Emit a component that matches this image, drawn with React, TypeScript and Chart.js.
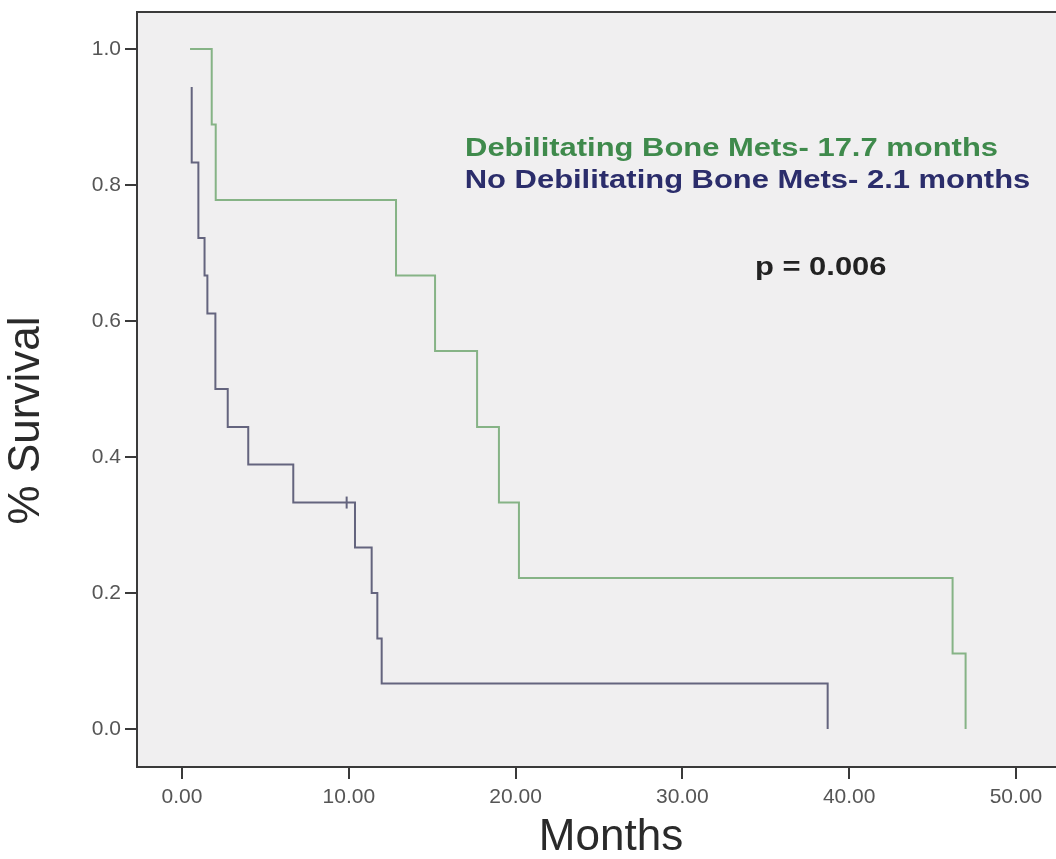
import React, { useEffect, useRef } from 'react';
import { Chart, registerables } from 'chart.js';

Chart.register(...registerables);

// ---- Data (Kaplan-Meier steps) ----
const GREEN_TIMES = [0.48, 1.78, 2.02, 12.83, 15.17, 17.69, 19.0, 20.2, 46.2, 46.98];
const GREEN_SURV = [1.0, 0.889, 0.778, 0.667, 0.556, 0.444, 0.333, 0.222, 0.111, 0.0];

const BLUE_TIMES = [0.58, 0.58, 0.98, 1.35, 1.52, 2.0, 2.74, 3.97, 6.67, 10.37, 11.37, 11.71, 11.97, 38.71];
const BLUE_SURV = [0.944, 0.833, 0.722, 0.667, 0.611, 0.5, 0.444, 0.389, 0.333, 0.267, 0.2, 0.133, 0.067, 0.0];

const BLUE_CENSOR_TIMES = [9.87];
const BLUE_CENSOR_SURV = [0.333];

const X_TICKS = [0, 10, 20, 30, 40, 50];
const X_TICK_LABELS = ['0.00', '10.00', '20.00', '30.00', '40.00', '50.00'];
const Y_TICKS = [0, 0.2, 0.4, 0.6, 0.8, 1.0];
const Y_TICK_LABELS = ['0.0', '0.2', '0.4', '0.6', '0.8', '1.0'];

const X_TITLE = 'Months';
const Y_TITLE = '% Survival';

const LEGEND_TEXTS = [
  'Debilitating Bone Mets- 17.7 months',
  'No Debilitating Bone Mets- 2.1 months',
];
const P_TEXT = 'p = 0.006';

// ---- Styles / positions ----
const FONT = '"Liberation Sans", Arial, Helvetica, sans-serif';
const GREEN_LINE = '#86b386';
const BLUE_LINE = '#64647e';
const GREEN_TEXT = '#3f8a4c';
const BLUE_TEXT = '#2b2d6b';
const AXIS_COLOR = '#3a3a3a';
const PLOT_BG = '#f0eff0';
const TEXT_STRETCH = 1.19;
// annotation anchors (left/baseline) in data units: [months, survival]
const ANNOT_POS = [
  [16.97, 0.843],
  [16.95, 0.795],
  [34.35, 0.668],
];

function toXY(ts: number[], ss: number[]) {
  return ts.map((t, i) => ({ x: t, y: ss[i] }));
}

function labelFor(ticks: number[], labels: string[], v: number) {
  const i = ticks.findIndex((t) => Math.abs(t - v) < 1e-9);
  return i >= 0 ? labels[i] : '';
}

const bgPlugin = {
  id: 'bgPlugin',
  beforeDraw(chart: any) {
    const { ctx, chartArea: a, width, height } = chart;
    ctx.save();
    ctx.fillStyle = '#ffffff';
    ctx.fillRect(0, 0, width, height);
    ctx.fillStyle = PLOT_BG;
    ctx.fillRect(a.left, a.top, a.right - a.left, a.bottom - a.top);
    ctx.strokeStyle = AXIS_COLOR;
    ctx.lineWidth = 2;
    ctx.beginPath();
    ctx.moveTo(a.left - 1, a.top);
    ctx.lineTo(a.right, a.top);
    ctx.stroke();
    ctx.restore();
  },
};

const textPlugin = {
  id: 'textPlugin',
  afterDraw(chart: any) {
    const { ctx, chartArea: a } = chart;
    const xs = chart.scales.x;
    const ys = chart.scales.y;
    ctx.save();
    const colors = [GREEN_TEXT, BLUE_TEXT, '#222222'];
    const texts = [LEGEND_TEXTS[0], LEGEND_TEXTS[1], P_TEXT];
    ctx.font = `bold 26px ${FONT}`;
    ctx.textBaseline = 'alphabetic';
    ctx.textAlign = 'left';
    texts.forEach((t, i) => {
      const px = xs.getPixelForValue(ANNOT_POS[i][0]);
      const py = ys.getPixelForValue(ANNOT_POS[i][1]);
      ctx.save();
      ctx.translate(px, py);
      ctx.scale(TEXT_STRETCH, 1);
      ctx.fillStyle = colors[i];
      ctx.fillText(t, 0, 0);
      ctx.restore();
    });
    ctx.fillStyle = '#2a2a2a';
    ctx.font = `44px ${FONT}`;
    ctx.textAlign = 'center';
    ctx.textBaseline = 'middle';
    ctx.fillText(X_TITLE, 611, 838);
    ctx.save();
    ctx.translate(27, (a.top + a.bottom) / 2 + 31);
    ctx.rotate(-Math.PI / 2);
    ctx.fillText(Y_TITLE, 0, 0);
    ctx.restore();
    ctx.restore();
  },
};

export default function App() {
  const ref = useRef<HTMLCanvasElement>(null);

  useEffect(() => {
    const canvas = ref.current;
    if (!canvas) return;
    const chart = new Chart(canvas, {
      type: 'line',
      data: {
        datasets: [
          {
            label: LEGEND_TEXTS[0],
            data: toXY(GREEN_TIMES, GREEN_SURV),
            borderColor: GREEN_LINE,
            borderWidth: 2,
            stepped: 'before',
            pointRadius: 0,
            fill: false,
          },
          {
            label: LEGEND_TEXTS[1],
            data: toXY(BLUE_TIMES, BLUE_SURV),
            borderColor: BLUE_LINE,
            borderWidth: 2,
            stepped: 'before',
            pointRadius: 0,
            fill: false,
          },
          {
            type: 'scatter',
            label: 'censored',
            data: toXY(BLUE_CENSOR_TIMES, BLUE_CENSOR_SURV),
            borderColor: BLUE_LINE,
            backgroundColor: BLUE_LINE,
            borderWidth: 2,
            pointStyle: 'line',
            rotation: 90,
            pointRadius: 6,
            showLine: false,
          } as any,
        ],
      },
      options: {
        responsive: false,
        animation: false,
        devicePixelRatio: 1,
        layout: { autoPadding: false, padding: { top: 12, left: 0, right: 0, bottom: 0 } },
        plugins: {
          legend: { display: false },
          tooltip: { enabled: false },
        },
        scales: {
          x: {
            type: 'linear',
            min: -2.7,
            max: 52.4,
            afterBuildTicks: (s: any) => {
              s.ticks = X_TICKS.map((v) => ({ value: v }));
            },
            afterFit: (s: any) => {
              s.height = 92;
              s.paddingLeft = 0;
              s.paddingRight = 0;
            },
            grid: {
              drawOnChartArea: false,
              drawTicks: true,
              tickLength: 12,
              color: AXIS_COLOR,
              lineWidth: 2,
            },
            border: { display: true, color: AXIS_COLOR, width: 2 },
            ticks: {
              padding: 6,
              color: '#555555',
              font: { family: FONT, size: 21 },
              maxRotation: 0,
              autoSkip: false,
              callback: (v: any) => labelFor(X_TICKS, X_TICK_LABELS, Number(v)),
            },
          },
          y: {
            type: 'linear',
            min: -0.0559,
            max: 1.0544,
            afterBuildTicks: (s: any) => {
              s.ticks = Y_TICKS.map((v) => ({ value: v }));
            },
            afterFit: (s: any) => {
              s.width = 137;
              s.paddingTop = 0;
              s.paddingBottom = 0;
            },
            grid: {
              drawOnChartArea: false,
              drawTicks: true,
              tickLength: 12,
              color: AXIS_COLOR,
              lineWidth: 2,
            },
            border: { display: true, color: AXIS_COLOR, width: 2 },
            ticks: {
              padding: 4,
              color: '#555555',
              font: { family: FONT, size: 21 },
              autoSkip: false,
              callback: (v: any) => labelFor(Y_TICKS, Y_TICK_LABELS, Number(v)),
            },
          },
        },
      } as any,
      plugins: [bgPlugin, textPlugin],
    });
    return () => chart.destroy();
  }, []);

  return (
    <div style={{ position: 'fixed', left: 0, top: 0, width: 1056, height: 859, background: '#ffffff' }}>
      <canvas ref={ref} width={1056} height={859} style={{ display: 'block', width: 1056, height: 859 }} />
    </div>
  );
}
